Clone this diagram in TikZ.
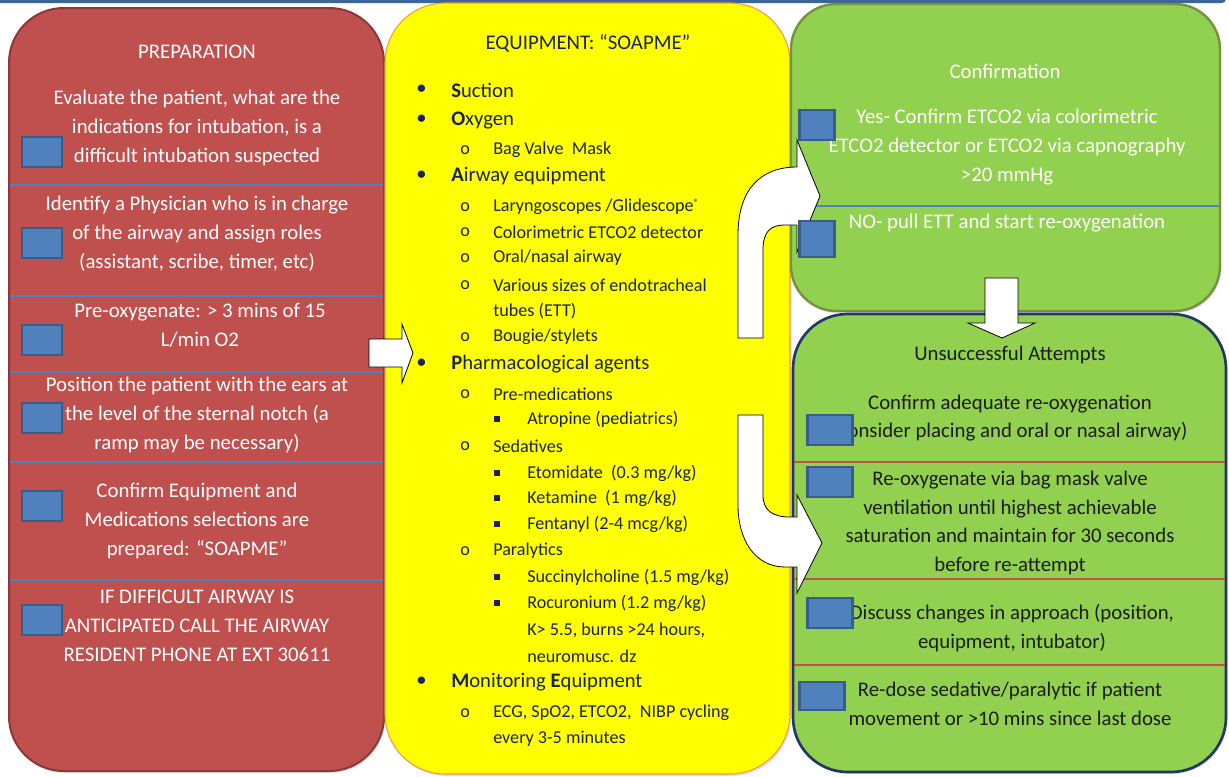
\documentclass[tikz,border=0pt]{standalone}
\usepackage{fontspec}
\setmainfont{Carlito}
\usetikzlibrary{positioning, calc, shadows}

\definecolor{barblue}{HTML}{3C6599}
\definecolor{prepred}{HTML}{C0504D}
\definecolor{prepedge}{HTML}{8C3836}
\definecolor{equipyellow}{HTML}{FFFF00}
\definecolor{equipedge}{HTML}{F79646}
\definecolor{okgreen}{HTML}{92D050}
\definecolor{okedge}{HTML}{76923C}
\definecolor{failedge}{HTML}{1F3864}
\definecolor{boxblue}{HTML}{4F81BD}
\definecolor{boxedge}{HTML}{385D8A}
\definecolor{listnavy}{HTML}{1A2350}
\definecolor{faildark}{HTML}{1C1C1C}

\tikzset{
    panelshadow/.style={drop shadow={shadow xshift=1pt, shadow yshift=-1.5pt, opacity=0.25}},
    chkbox/.style 2 args={draw=boxedge, fill=boxblue, line width=1.9pt, inner sep=0pt,
        minimum width=#1*0.75pt, minimum height=#2*0.75pt},
    boxtext/.style={align=center, inner sep=0pt, font=\fontsize{15.6}{21.6}\selectfont},
    mainitem/.style={anchor=west, inner sep=0pt, text=listnavy, font=\fontsize{15.5}{18}\selectfont},
    subitem/.style={anchor=west, inner sep=0pt, text=listnavy, font=\fontsize{13.6}{16}\selectfont},
    blockarrow/.style={draw=black, fill=white, line width=0.6pt, line join=miter},
}

\begin{document}
\begin{tikzpicture}[x=0.75pt, y=-0.75pt]
    \useasboundingbox (0,0) rectangle (1229,776);

    % top bar
    \fill[barblue, rounded corners=3pt] (-20,-20) rectangle (1226,3);

    % panels
    \draw[panelshadow, fill=prepred, draw=prepedge, line width=1.5pt, rounded corners=41pt]
        (9,8) rectangle (384,771);
    \draw[panelshadow, fill=equipyellow, draw=equipedge, line width=0.8pt, rounded corners=45pt]
        (385,3) rectangle (790,774);
    \draw[panelshadow, fill=okgreen, draw=okedge, line width=1.8pt, rounded corners=34pt]
        (791,4) rectangle (1220,311);
    \draw[panelshadow, fill=okgreen, draw=failedge, line width=2pt, rounded corners=41pt]
        (793,314) rectangle (1226,772);

    % draw divider lines
    \foreach \y in {185,296,372,462,580}
    {
        \draw[boxblue, line width=0.8pt] (10,\y) -- (383,\y);
    }
    \draw[boxblue, line width=0.8pt] (792,206) -- (1219,206);
    \foreach \y in {462,579,665}
    {
        \draw[prepred, line width=0.8pt] (794,\y) -- (1225,\y);
    }

    % block arrows
    \draw[blockarrow] (369,339) -- (402,339) -- (402,324) -- (413,353) -- (402,383)
        -- (402,367) -- (369,367) -- cycle;
    \draw[blockarrow] (738,338) -- (738,235) .. controls (738,190) and (760,167) .. (797,167)
        -- (797,140) -- (820,196) -- (797,252) -- (797,225) -- (785,225)
        .. controls (770,225) and (763,232) .. (763,250) -- (763,338) -- cycle;
    \draw[blockarrow] (738,415) -- (763,415) -- (763,495) .. controls (763,510) and (772,517) .. (790,517)
        -- (797,517) -- (797,495) -- (822,543) -- (797,593) -- (797,567) -- (785,567)
        .. controls (755,567) and (738,540) .. (738,505) -- cycle;
    \draw[blockarrow] (985,278) -- (1018,278) -- (1018,323) -- (1035,323) -- (1002,338)
        -- (968,323) -- (985,323) -- cycle;

    % preparation
    \node[boxtext, text=white] (prep) at (197,52) {PREPARATION};
    \node[boxtext, text=white] (evaluate) at (197,128)
        {Evaluate the patient, what are the\\indications for intubation, is a\\difficult intubation suspected};
    \node[boxtext, text=white] (identify) at (197,234)
        {Identify a Physician who is in charge\\of the airway and assign roles\\(assistant, scribe, timer, etc)};
    \node[boxtext, text=white] (preox) at (200,325) {Pre-oxygenate: > 3 mins of 15\\L/min O2};
    \node[boxtext, text=white] (position) at (197,415)
        {Position the patient with the ears at\\the level of the sternal notch (a\\ramp may be necessary)};
    \node[boxtext, text=white] (confequip) at (197,521)
        {Confirm Equipment and\\Medications selections are\\prepared: “SOAPME”};
    \node[boxtext, text=white] (difficult) at (197,626)
        {IF DIFFICULT AIRWAY IS\\ANTICIPATED CALL THE AIRWAY\\RESIDENT PHONE AT EXT 30611};

    % equipment list
    \node[boxtext, text=listnavy] (soapme) at (588,43) {EQUIPMENT: “SOAPME”};
    \foreach \y/\t [count=\i] in {90/{\textbf{S}uction}, 120/{\textbf{O}xygen},
        176/{\textbf{A}irway equipment}, 364/{\textbf{P}harmacological agents},
        682/{\textbf{M}onitoring \textbf{E}quipment}}
    {
        \node[mainitem] (main\i) at (451,\y) {\t};
        \node[mainitem] (maindot\i) at (416,\y) {•};
    }
    \foreach \y/\t [count=\i] in {150/{Bag Valve\ \ Mask}, 207/{Laryngoscopes /Glidescope\raisebox{0.6ex}{\footnotesize ®}},
        232/{Colorimetric ETCO2 detector}, 258/{Oral/nasal airway},
        285/{Various sizes of endotracheal}, 337/{Bougie/stylets}, 394/{Pre-medications},
        446/{Sedatives}, 551/{Paralytics}, 713/{ECG, SpO2, ETCO2,\ \ NIBP cycling}}
    {
        \node[subitem] (sub\i) at (493,\y) {\t};
        \node[subitem] (subdot\i) at (460,\y) {o};
    }
    \node[subitem] (subcont1) at (493,311) {tubes (ETT)};
    \node[subitem] (subcont2) at (493,739) {every 3-5 minutes};
    \foreach \y/\t [count=\i] in {419/{Atropine (pediatrics)}, 473/{Etomidate\ \ (0.3 mg/kg)},
        498/{Ketamine\ \ (1 mg/kg)}, 524/{Fentanyl (2-4 mcg/kg)},
        577/{Succinylcholine (1.5 mg/kg)}, 603/{Rocuronium (1.2 mg/kg)}}
    {
        \node[subitem] (drug\i) at (527,\y) {\t};
        \fill[listnavy] (494,\y-3) rectangle (500,\y+3);
    }
    \node[subitem] (drugcont1) at (527,630) {K> 5.5, burns >24 hours,};
    \node[subitem] (drugcont2) at (527,656) {neuromusc. dz};

    % confirmation
    \node[boxtext, text=white] (confirm) at (1005,71) {Confirmation};
    \node[boxtext, text=white] (yes) at (1007,147)
        {Yes- Confirm ETCO2 via colorimetric\\ETCO2 detector or ETCO2 via capnography\\>20 mmHg};
    \node[boxtext, text=white] (no) at (1007,223) {NO- pull ETT and start re-oxygenation};

    % unsuccessful attempts
    \node[boxtext, text=faildark] (unsucc) at (1010,355) {Unsuccessful Attempts};
    \node[boxtext, text=faildark] (reoxconf) at (1010,418)
        {Confirm adequate re-oxygenation\\(consider placing and oral or nasal airway)};
    \node[boxtext, text=faildark] (reoxbag) at (1010,523)
        {Re-oxygenate via bag mask valve\\ventilation until highest achievable\\saturation and maintain for 30 seconds\\before re-attempt};
    \node[boxtext, text=faildark] (discuss) at (1012,628)
        {Discuss changes in approach (position,\\equipment, intubator)};
    \node[boxtext, text=faildark] (redose) at (1010,704)
        {Re-dose sedative/paralytic if patient\\movement or >10 mins since last dose};

    % check boxes
    \foreach \y [count=\i] in {152,243,340,418,506,620}
    {
        \node[chkbox={40}{30}] (prepbox\i) at (42,\y) {};
    }
    \node[chkbox={35}{30}] (yesbox) at (817,125) {};
    \node[chkbox={35}{36}] (nobox) at (817,239) {};
    \foreach \y [count=\i] in {430,482,613}
    {
        \node[chkbox={45}{30}] (failbox\i) at (830,\y) {};
    }
    \node[chkbox={45}{28}] (failbox4) at (822,696) {};
\end{tikzpicture}
\end{document}
